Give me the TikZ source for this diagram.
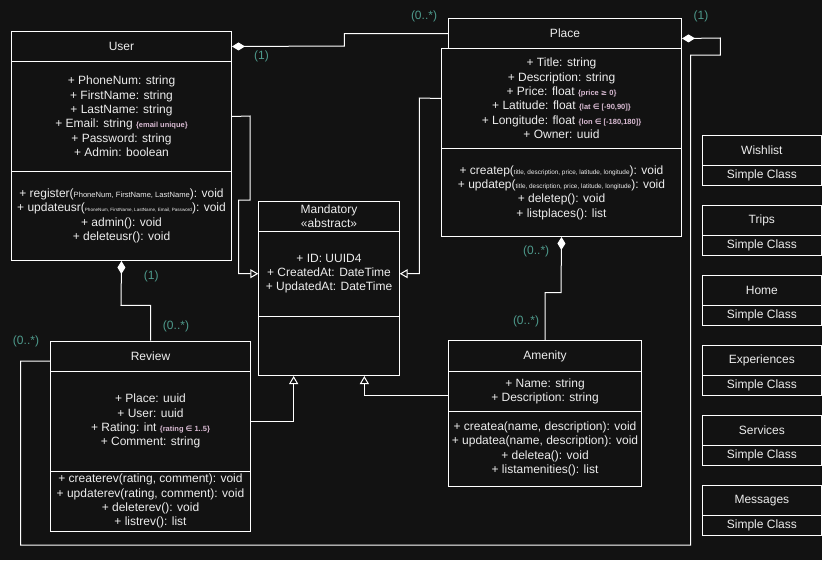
\documentclass[tikz,border=0pt]{standalone}
\usepackage{fontspec}
\setmainfont{Liberation Sans}
\newfontfamily\symfont{DejaVu Sans}
\usetikzlibrary{arrows.meta,calc}

\definecolor{bg}{HTML}{121212}
\definecolor{ink}{HTML}{EDEDED}
\definecolor{mult}{HTML}{4E9A8C}
\definecolor{note}{HTML}{D9BBD3}

% constraint annotations and tiny argument lists
\newcommand{\cons}[1]{{\fontsize{7.5}{9}\selectfont\bfseries\color{note}#1}}
\newcommand{\argsm}[1]{{\fontsize{7.6}{9}\selectfont #1}}
\newcommand{\argxs}[1]{{\fontsize{4.6}{6}\selectfont #1}}
\newcommand{\argp}[1]{{\fontsize{6.4}{8}\selectfont #1}}
\newcommand{\elem}{{\symfont ∈}}
\newcommand{\geqs}{{\symfont ≥}}

\begin{document}
\begin{tikzpicture}[x=1pt,y=-1pt,
  comp/.style={draw=white, line width=1pt, fill=bg, inner sep=0pt, anchor=north west},
  txt/.style={text=ink, font=\fontsize{12}{14.4}\selectfont, align=center, inner sep=0pt},
  mlt/.style={text=mult, font=\fontsize{12}{14}\selectfont, inner sep=0pt},
  link/.style={draw=white, line width=1pt},
  inh/.style={link, -{Triangle[open, length=8pt, width=9pt]}},
  agg/.style={link, {Diamond[length=13pt, width=8pt, fill=white]}-}]

\fill[bg] (0,0) rectangle (822,560);
\useasboundingbox (0,0) rectangle (822,560);

% ---- User ----
\node[comp, minimum width=220pt, minimum height=30pt] (userH) at (11,31) {};
\node[comp, minimum width=220pt, minimum height=110pt] (userA) at (11,61) {};
\node[comp, minimum width=220pt, minimum height=89pt] (userM) at (11,171) {};
\node[txt] (userT) at (userH) {User};
\node[txt] (userAT) at (userA) {+ PhoneNum: string\\+ FirstName: string\\+ LastName: string\\
  + Email: string \cons{\{email unique\}}\\+ Password: string\\+ Admin: boolean};
\node[txt] (userMT) at (userM) {+ register(\argsm{PhoneNum, FirstName, LastName}): void\\
  + updateusr(\argxs{PhoneNum, FirstName, LastName, Email, Password}): void\\
  + admin(): void\\+ deleteusr(): void};

% ---- Place ----
\node[comp, minimum width=233pt, minimum height=30pt] (placeH) at (448,18) {};
\node[comp, minimum width=240pt, minimum height=100pt] (placeA) at (441,48) {};
\node[comp, minimum width=240pt, minimum height=88pt] (placeM) at (441,148) {};
\node[txt] (placeT) at (placeH) {Place};
\node[txt] (placeAT) at (placeA) {+ Title: string\\+ Description: string\\
  + Price: float \cons{\{price \geqs{} 0\}}\\
  + Latitude: float \cons{\{lat \elem{} [-90,90]\}}\\
  + Longitude: float \cons{\{lon \elem{} [-180,180]\}}\\+ Owner: uuid};
\node[txt] (placeMT) at (placeM) {+ createp(\argp{title, description, price, latitude, longitude}): void\\
  + updatep(\argp{title, description, price, latitude, longitude}): void\\
  + deletep(): void\\+ listplaces(): list};

% ---- Mandatory ----
\node[comp, minimum width=140.4pt, minimum height=30pt] (mandH) at (258.3,200.7) {};
\node[comp, minimum width=140.4pt, minimum height=85pt] (mandA) at (258.3,230.7) {};
\node[comp, minimum width=140.4pt, minimum height=59.3pt] (mandB) at (258.3,315.7) {};
\node[txt] (mandT) at (mandH) {Mandatory\\«abstract»};
\node[txt] (mandAT) at (mandA) {+ ID: UUID4\\+ CreatedAt: DateTime\\+ UpdatedAt: DateTime};

% ---- Review ----
\node[comp, minimum width=200pt, minimum height=30pt] (reviewH) at (50,340.7) {};
\node[comp, minimum width=200pt, minimum height=100pt] (reviewA) at (50,370.7) {};
\node[comp, minimum width=200pt, minimum height=60pt] (reviewM) at (50,470.7) {};
\node[txt] (reviewT) at (reviewH) {Review};
\node[txt] (reviewAT) at (reviewA) {+ Place: uuid\\+ User: uuid\\
  + Rating: int \cons{\{rating \elem{} 1..5\}}\\+ Comment: string};
\node[txt] (reviewMT) at (reviewM) {+ createrev(rating, comment): void\\
  + updaterev(rating, comment): void\\+ deleterev(): void\\+ listrev(): list};

% ---- Amenity ----
\node[comp, minimum width=192.4pt, minimum height=30.4pt] (amenH) at (448.3,340.3) {};
\node[comp, minimum width=192.4pt, minimum height=40pt] (amenA) at (448.3,370.7) {};
\node[comp, minimum width=192.4pt, minimum height=75pt] (amenM) at (448.3,410.7) {};
\node[txt] (amenT) at (amenH) {Amenity};
\node[txt] (amenAT) at (amenA) {+ Name: string\\+ Description: string};
\node[txt] (amenMT) at (amenM) {+ createa(name, description): void\\
  + updatea(name, description): void\\+ deletea(): void\\+ listamenities(): list};

% ---- simple classes ----
\foreach \n/\t [count=\i] in {wish/Wishlist, trips/Trips, home/Home,
    exp/Experiences, serv/Services, msg/Messages} {
  \node[comp, minimum width=119.3pt, minimum height=30pt] (\n-head) at (701.7,{135+70*(\i-1)}) {};
  \node[comp, minimum width=119.3pt, minimum height=20pt] (\n-body) at (701.7,{165+70*(\i-1)}) {};
  \node[txt] (\n-title) at (\n-head) {\t};
  \node[txt] (\n-kind) at (\n-body) {Simple Class};
}

% ---- associations (aggregation) ----
\draw[agg] (userH.east) -- (344.3,46) |- (placeH.west);
\draw[agg] ($(placeH.east)+(0,5)$) -- (720.3,38) -- (720.3,55) -- (690.7,55)
  -- (690.7,545) -- (20.7,545) |- ($(reviewH.west)+(0,5)$);
\draw[agg] (userM.south) -- (121,305.3) -| (reviewH.north);
\draw[agg] (placeM.south) -- (561,292.7) -| (amenH.north);

% ---- generalisations ----
\draw[inh] (userA.east) -- (250,116) -- (250,200) -- (238.7,200) |- (mandA.west);
\draw[inh] (placeA.west) -- (419.3,98) |- (mandA.east);
\draw[inh] (reviewA.east) -| ($(mandB.south west)!0.25!(mandB.south east)$);
\draw[inh] ($(amenA.west)+(0,4.3)$) -| ($(mandB.south west)!0.75!(mandB.south east)$);

% ---- multiplicities ----
\node[mlt] (m1) at (261.5,56) {(1)};
\node[mlt] (m2) at (424,16) {(0..*)};
\node[mlt] (m3) at (701,16) {(1)};
\node[mlt] (m4) at (26,341.5) {(0..*)};
\node[mlt] (m5) at (151.3,276) {(1)};
\node[mlt] (m6) at (176,326) {(0..*)};
\node[mlt] (m7) at (536.2,251.3) {(0..*)};
\node[mlt] (m8) at (526,321) {(0..*)};
\end{tikzpicture}
\end{document}
